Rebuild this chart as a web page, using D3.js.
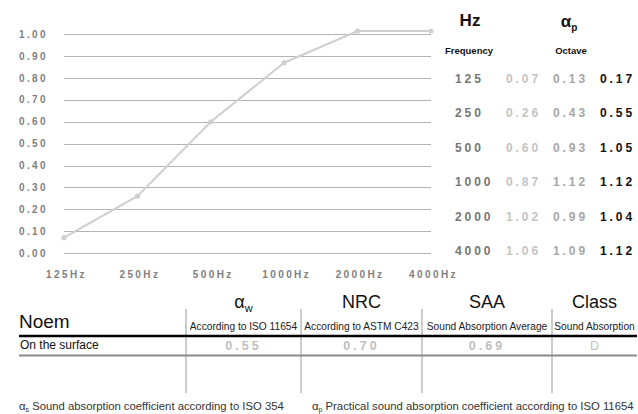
<!DOCTYPE html>
<html lang="en">
<head>
    <meta charset="UTF-8">
    <title>Noem - sound absorption</title>
    <script src="https://d3js.org/d3.v7.min.js"></script>
    <style>
        body { margin: 0; background: #fff; font-family: Arial, "Liberation Sans", sans-serif; }
        svg { display: block; }
    </style>
</head>
<body>
<div id="chart"></div>
<script>
    // data
    const freqLabels = ["125Hz", "250Hz", "500Hz", "1000Hz", "2000Hz", "4000Hz"];
    const freqs = ["125", "250", "500", "1000", "2000", "4000"];
    const alphaS = [0.07, 0.26, 0.60, 0.87, 1.02, 1.06];
    const alphaOct = [0.13, 0.43, 0.93, 1.12, 0.99, 1.09];
    const alphaP = [0.17, 0.55, 1.05, 1.12, 1.04, 1.12];
    const yTicks = [0, 0.1, 0.2, 0.3, 0.4, 0.5, 0.6, 0.7, 0.8, 0.9, 1.0];

    const sumTitles = ["α", "NRC", "SAA", "Class"];
    const sumSubs = ["w", "", "", ""];
    const sumNotes = ["According to ISO 11654", "According to ASTM C423", "Sound Absorption Average", "Sound Absorption"];
    const sumValues = ["0.55", "0.70", "0.69", "D"];
    const rowLabel = "On the surface";

    const width = 638, height = 414;
    const svg = d3.select("#chart").append("svg").attr("width", width).attr("height", height);

    // line chart
    const x = d3.scalePoint().domain(freqLabels).range([64, 431]);
    const y = d3.scaleLinear().domain([0, 1.015]).range([253, 31]).clamp(true);

    svg.append("g").selectAll("line")
        .data(yTicks).enter().append("line")
        .attr("x1", 64).attr("x2", 431)
        .attr("y1", d => Math.round(y(d)) + 0.5).attr("y2", d => Math.round(y(d)) + 0.5)
        .attr("stroke", "#b4b4b4").attr("stroke-width", 1);

    svg.append("g").selectAll("text")
        .data(yTicks).enter().append("text")
        .attr("x", 48).attr("y", d => y(d) + 3.5)
        .attr("text-anchor", "end")
        .attr("font-size", 10).attr("font-weight", "bold")
        .attr("letter-spacing", 2.4).attr("fill", "#808080")
        .text(d => d.toFixed(2));

    svg.append("g").selectAll("text")
        .data(freqLabels).enter().append("text")
        .attr("x", d => x(d) + 2.5).attr("y", 278)
        .attr("text-anchor", "middle")
        .attr("font-size", 10).attr("font-weight", "bold")
        .attr("letter-spacing", 2.4).attr("fill", "#808080")
        .text(d => d);

    const line = d3.line().x((d, i) => x(freqLabels[i])).y(d => y(d));
    svg.append("path").datum(alphaS)
        .attr("d", line).attr("fill", "none")
        .attr("stroke", "#cfcfcf").attr("stroke-width", 2);
    svg.append("g").selectAll("circle")
        .data(alphaS).enter().append("circle")
        .attr("cx", (d, i) => x(freqLabels[i])).attr("cy", d => y(d))
        .attr("r", 2.6).attr("fill", "#cfcfcf");

    // right-hand table
    const rowY = d3.scalePoint().domain(freqs).range([83, 255]);
    const hdr = svg.append("g").attr("font-weight", "bold").attr("fill", "#111");
    hdr.append("text").attr("x", 470).attr("y", 26).attr("text-anchor", "middle")
        .attr("font-size", 17).text("Hz");
    const ap = hdr.append("text").attr("x", 569).attr("y", 27).attr("text-anchor", "middle")
        .attr("font-size", 17);
    ap.append("tspan").text("α");
    ap.append("tspan").attr("font-size", 10).attr("dy", 4).text("p");
    hdr.append("text").attr("x", 469).attr("y", 54).attr("text-anchor", "middle")
        .attr("font-size", 9.5).text("Frequency");
    hdr.append("text").attr("x", 571).attr("y", 54).attr("text-anchor", "middle")
        .attr("font-size", 9.5).text("Octave");

    const cols = [
        { vals: freqs.map(d => d), x: 455, fill: "#767676" },
        { vals: alphaS.map(d => d.toFixed(2)), x: 506, fill: "#c4c4c4" },
        { vals: alphaOct.map(d => d.toFixed(2)), x: 553, fill: "#a6a6a6" },
        { vals: alphaP.map(d => d.toFixed(2)), x: 600, fill: "#111" }
    ];
    cols.forEach(c => {
        svg.append("g").selectAll("text")
            .data(c.vals).enter().append("text")
            .attr("x", c.x).attr("y", (d, i) => rowY(freqs[i]))
            .attr("font-size", 12).attr("font-weight", "bold")
            .attr("letter-spacing", 2.9).attr("fill", c.fill)
            .text(d => d);
    });

    // summary table
    const edges = [186, 301, 422, 552, 637];
    const colMid = i => (edges[i] + edges[i + 1]) / 2;

    svg.append("g").selectAll("line")
        .data(edges.slice(0, 4)).enter().append("line")
        .attr("x1", d => d).attr("x2", d => d)
        .attr("y1", 309).attr("y2", 393)
        .attr("stroke", "#cccccc").attr("stroke-width", 2);

    svg.append("text").attr("x", 19).attr("y", 328)
        .attr("font-size", 19).attr("fill", "#111").text("Noem");
    svg.append("line").attr("x1", 19).attr("x2", 637).attr("y1", 336).attr("y2", 336)
        .attr("stroke", "#000").attr("stroke-width", 2.5);
    svg.append("text").attr("x", 20).attr("y", 349)
        .attr("font-size", 12).attr("fill", "#111").text(rowLabel);
    svg.append("line").attr("x1", 19).attr("x2", 637).attr("y1", 355.5).attr("y2", 355.5)
        .attr("stroke", "#8a8a8a").attr("stroke-width", 2);

    sumTitles.forEach((t, i) => {
        const tt = svg.append("text").attr("x", colMid(i)).attr("y", 308)
            .attr("text-anchor", "middle").attr("font-size", 18).attr("fill", "#111");
        tt.append("tspan").text(t);
        if (sumSubs[i]) tt.append("tspan").attr("font-size", 11).attr("dy", 4).text(sumSubs[i]);
        svg.append("text").attr("x", colMid(i)).attr("y", 330)
            .attr("text-anchor", "middle").attr("font-size", 10.2).attr("fill", "#222")
            .text(sumNotes[i]);
        svg.append("text").attr("x", colMid(i)).attr("y", 349.5)
            .attr("text-anchor", "middle").attr("font-size", 12.5)
            .attr("font-weight", i < 3 ? "bold" : "normal")
            .attr("letter-spacing", i < 3 ? 3 : 0).attr("fill", "#c0c0c0")
            .text(sumValues[i]);
    });

    // footnotes
    const f1 = svg.append("text").attr("x", 19).attr("y", 410).attr("font-size", 11.3).attr("fill", "#333");
    f1.append("tspan").text("α");
    f1.append("tspan").attr("font-size", 7).attr("dy", 1.5).text("s");
    f1.append("tspan").attr("dy", -1.5).text(" Sound absorption coefficient according to ISO 354");
    const f2 = svg.append("text").attr("x", 312).attr("y", 410).attr("font-size", 11.3).attr("fill", "#333");
    f2.append("tspan").text("α");
    f2.append("tspan").attr("font-size", 7).attr("dy", 1.5).text("p");
    f2.append("tspan").attr("dy", -1.5).text(" Practical sound absorption coefficient according to ISO 11654");
</script>
</body>
</html>
